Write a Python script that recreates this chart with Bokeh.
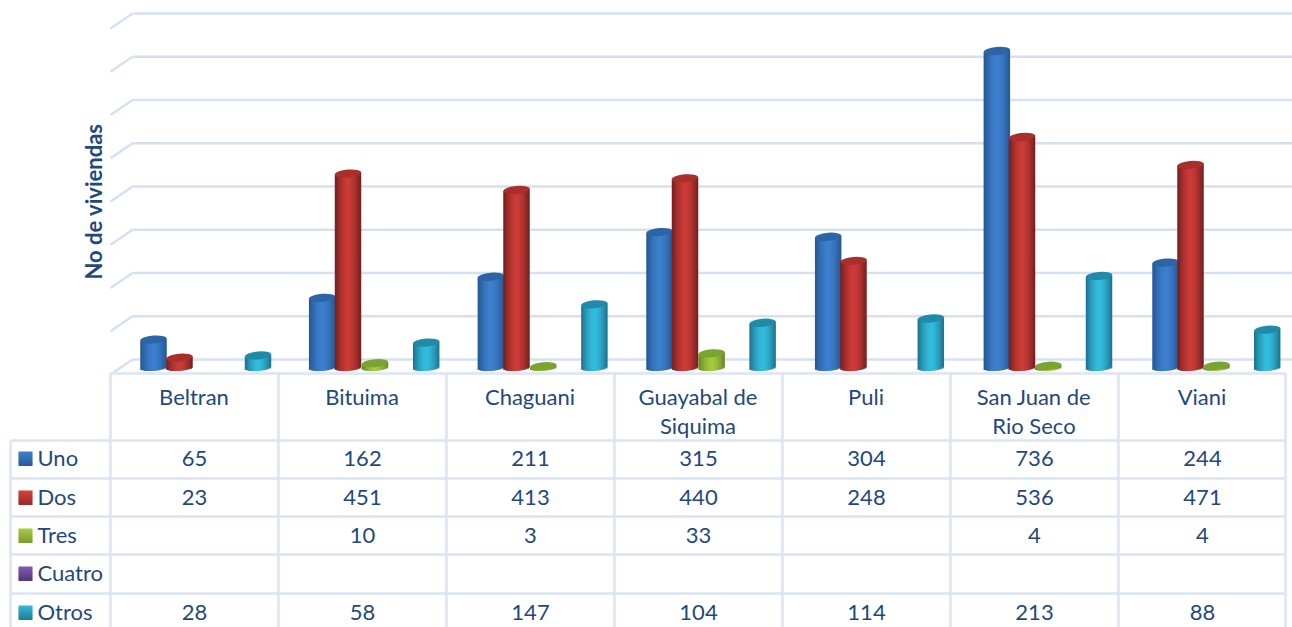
import math
from bokeh.plotting import figure
from bokeh.models import Range1d
from bokeh.core.properties import value
from bokeh.embed import file_html
from bokeh.resources import INLINE

categories = ["Beltran", "Bituima", "Chaguani", "Guayabal de\nSiquima", "Puli", "San Juan de\nRio Seco", "Viani"]
uno = [65, 162, 211, 315, 304, 736, 244]
dos = [23, 451, 413, 440, 248, 536, 471]
tres = [None, 10, 3, 33, None, 4, 4]
cuatro = [None] * 7
otros = [28, 58, 147, 104, 114, 213, 88]
series_names = ["Uno", "Dos", "Tres", "Cuatro", "Otros"]
series_values = [uno, dos, tres, cuatro, otros]
wall_ticks = [0, 100, 200, 300, 400, 500, 600, 700, 800]
y_title = "No de viviendas"

FONT = "Lato"
FS = "22px"
TXT = "#1f497d"
LINE = "#dbe5f4"
# edge, centre, top-cap, key-top, key-bottom
PAL = [("#26568f", "#3c80cf", "#2c64a6", "#3c7fcc", "#2a5c9c"),
       ("#701f1e", "#cc3b37", "#a92f2c", "#d23f3c", "#9c2b2a"),
       ("#66832a", "#a3cb3c", "#7ba32f", "#a5c940", "#7f9f33"),
       ("#4b2f72", "#8a5cc0", "#62408f", "#8159ac", "#563a80"),
       ("#1b708a", "#33bcdf", "#1f8ba8", "#33b5d6", "#1f8199")]

X0, Y0 = 0, 0
W, H = 1292, 627
SCALE = .43
p = figure(width=W, height=H, output_backend="svg", toolbar_location=None,
           x_range=Range1d(X0, X0 + W), y_range=Range1d(Y0 + H, Y0),
           x_axis_location=None, y_axis_location=None, min_border=0,
           outline_line_color=None, background_fill_color="white")
p.grid.visible = False

# scales: category index -> px 194 + 168 i ; value -> px 367 - SCALE v ; wall -> px 359 - .4325 v
p.extra_x_ranges["cat"] = Range1d((X0 - 194) / 168, (X0 + W - 194) / 168)
p.extra_y_ranges["val"] = Range1d((367 - (Y0 + H)) / SCALE, (367 - Y0) / SCALE)
p.extra_y_ranges["wall"] = Range1d((359 - (Y0 + H)) / .4325, (359 - Y0) / .4325)

# back wall + side wall gridlines
n = len(wall_ticks)
p.segment([132] * n, wall_ticks, [1292] * n, wall_ticks, y_range_name="wall", line_color="#d5e1f2", line_width=2.5)
for t in wall_ticks:
    y0 = 359 - .4325 * t
    p.line([132, 110], [y0, y0 + 15], line_color="#d5e1f2", line_width=2.5)

# table grid
vx = [110, 278, 446, 614, 782, 950, 1118, 1285]
p.segment(vx, [373] * 8, vx, [627] * 8, line_color=LINE, line_width=2.5)
p.segment([10], [440], [10], [627], line_color=LINE, line_width=2.5)
p.segment([110], [373], [1285], [373], line_color=LINE, line_width=2.5)
hy = [440, 478, 516, 554, 593]
p.segment([10] * 5, hy, [1285] * 5, hy, line_color=LINE, line_width=2.5)

def mix(a, b, t):
    ca = [int(a[i:i + 2], 16) for i in (1, 3, 5)]
    cb = [int(b[i:i + 2], 16) for i in (1, 3, 5)]
    return "#%02x%02x%02x" % tuple(round(x + (y - x) * t) for x, y in zip(ca, cb))

# cylinders: perspective gives each series its own start and step along the floor
BW_PX = 26.5
start_px = [153, 179, 206.2, 232, 257.5]
step_px = [168.67, 168.5, 168.3, 168.25, 168.2]
STRIPS = 14
DEPTH = 3.4 / SCALE
TILT = 1.2 / SCALE
for s, vals in enumerate(series_values):
    xs = [(start_px[s] + step_px[s] * i - 194) / 168 for i, v in enumerate(vals) if v is not None]
    vs = [v for v in vals if v is not None]
    if not xs:
        continue
    edge, centre, cap = PAL[s][:3]
    sw = BW_PX / 168 / STRIPS
    for k in range(STRIPS):
        t = (k + .5) / STRIPS * 2 - 1
        col = mix(centre, edge, abs(t) ** 1.6)
        off = t * BW_PX / 2 / 168
        bot = -DEPTH * math.sqrt(1 - t * t) + TILT * t
        wid = sw * (1.0 if k == STRIPS - 1 else 1.6)
        p.vbar([x + off + (wid - sw) / 2 for x in xs], top=[v + TILT * t for v in vs], bottom=bot, width=wid,
               fill_color=col, line_color=None, x_range_name="cat", y_range_name="val")
    p.ellipse(xs, vs, width=BW_PX, height=8, width_units="screen", height_units="screen",
              angle=.09, fill_color=cap, line_color=None, x_range_name="cat", y_range_name="val")

# category labels
for i, c in enumerate(categories):
    for j, part in enumerate(c.split("\n")):
        p.text([193.5 + 168 * i], [396 + 29 * j], text=[part], text_font=value(FONT), text_font_size=FS,
               text_color=TXT, text_align="center", text_baseline="middle")

# table rows
rows_y = [458, 497, 535, 573, 612]
for r, (name, vals) in enumerate(zip(series_names, series_values)):
    for b in range(7):
        p.quad(left=18, right=32, top=rows_y[r] - 7 + 2 * b, bottom=rows_y[r] - 7 + 2 * b + 2.4,
               fill_color=mix(PAL[r][3], PAL[r][4], b / 6), line_color=None)
    p.text([37], [rows_y[r] - 1], text=[name], text_font=value(FONT), text_font_size=FS,
           text_color=TXT, text_align="left", text_baseline="middle")
    for i, v in enumerate(vals):
        if v is not None:
            p.text([194 + 168 * i], [rows_y[r]], text=[str(v)], text_font=value(FONT), text_font_size=FS,
                   text_color=TXT, text_align="center", text_baseline="middle")

p.text([93], [201], text=[y_title], angle=math.pi / 2, text_font=value(FONT), text_font_size=FS,
       text_font_style="bold", text_color=TXT, text_align="center", text_baseline="middle")

open("out.html", "w").write(file_html(p, INLINE))
